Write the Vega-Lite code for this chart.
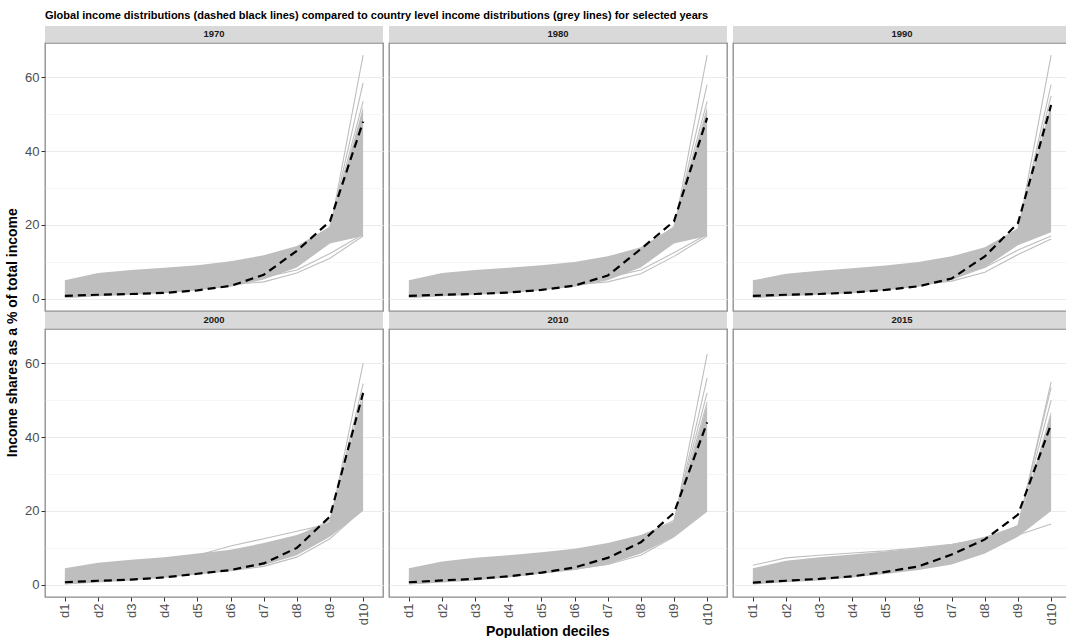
{
"$schema": "https://vega.github.io/schema/vega-lite/v6.json",
"background": "white",
"padding": {"left": 5, "right": 0, "top": 10, "bottom": 0},
"title": {"text": "Global income distributions (dashed black lines) compared to country level income distributions (grey lines) for selected years", "anchor": "start", "fontSize": 11, "fontWeight": "bold", "font": "Liberation Sans", "color": "#000000", "offset": 5, "frame": "group"},
"config": {
  "font": "Liberation Sans",
  "view": {"stroke": "#8a8a8a", "strokeWidth": 1.3},
  "axis": {"domain": false, "gridColor": "#EBEBEB", "labelColor": "#4D4D4D", "labelFont": "Liberation Sans", "labelFontSize": 13, "tickColor": "#333333", "tickSize": 4, "labelPadding": 2}
},
"datasets": {
  "years": [{"year": 1970}, {"year": 1980}, {"year": 1990}, {"year": 2000}, {"year": 2010}, {"year": 2015}],
  "band": [
    {"year":1970,"d":"d1","lo":0.2,"hi":5.0},{"year":1970,"d":"d2","lo":0.7,"hi":7.0},{"year":1970,"d":"d3","lo":1.1,"hi":7.8},{"year":1970,"d":"d4","lo":1.5,"hi":8.4},{"year":1970,"d":"d5","lo":2.3,"hi":9.1},{"year":1970,"d":"d6","lo":3.3,"hi":10.2},{"year":1970,"d":"d7","lo":5.2,"hi":11.8},{"year":1970,"d":"d8","lo":8.5,"hi":14.3},{"year":1970,"d":"d9","lo":15.0,"hi":19.5},{"year":1970,"d":"d10","lo":17.0,"hi":52.0},
    {"year":1980,"d":"d1","lo":0.2,"hi":5.0},{"year":1980,"d":"d2","lo":0.7,"hi":7.0},{"year":1980,"d":"d3","lo":1.1,"hi":7.8},{"year":1980,"d":"d4","lo":1.5,"hi":8.4},{"year":1980,"d":"d5","lo":2.3,"hi":9.1},{"year":1980,"d":"d6","lo":3.3,"hi":10.0},{"year":1980,"d":"d7","lo":5.0,"hi":11.5},{"year":1980,"d":"d8","lo":8.5,"hi":14.0},{"year":1980,"d":"d9","lo":15.0,"hi":19.5},{"year":1980,"d":"d10","lo":17.0,"hi":52.0},
    {"year":1990,"d":"d1","lo":0.2,"hi":5.0},{"year":1990,"d":"d2","lo":0.7,"hi":6.8},{"year":1990,"d":"d3","lo":1.1,"hi":7.6},{"year":1990,"d":"d4","lo":1.5,"hi":8.3},{"year":1990,"d":"d5","lo":2.3,"hi":9.0},{"year":1990,"d":"d6","lo":3.3,"hi":10.0},{"year":1990,"d":"d7","lo":5.0,"hi":11.5},{"year":1990,"d":"d8","lo":8.5,"hi":14.0},{"year":1990,"d":"d9","lo":14.5,"hi":19.0},{"year":1990,"d":"d10","lo":18.0,"hi":53.0},
    {"year":2000,"d":"d1","lo":0.1,"hi":4.5},{"year":2000,"d":"d2","lo":0.6,"hi":6.0},{"year":2000,"d":"d3","lo":1.2,"hi":6.8},{"year":2000,"d":"d4","lo":1.9,"hi":7.5},{"year":2000,"d":"d5","lo":2.8,"hi":8.5},{"year":2000,"d":"d6","lo":3.8,"hi":9.5},{"year":2000,"d":"d7","lo":5.3,"hi":11.3},{"year":2000,"d":"d8","lo":8.0,"hi":13.5},{"year":2000,"d":"d9","lo":13.0,"hi":17.0},{"year":2000,"d":"d10","lo":20.0,"hi":51.0},
    {"year":2010,"d":"d1","lo":0.1,"hi":4.5},{"year":2010,"d":"d2","lo":0.6,"hi":6.3},{"year":2010,"d":"d3","lo":1.2,"hi":7.3},{"year":2010,"d":"d4","lo":2.0,"hi":8.0},{"year":2010,"d":"d5","lo":3.0,"hi":8.8},{"year":2010,"d":"d6","lo":4.0,"hi":9.8},{"year":2010,"d":"d7","lo":5.5,"hi":11.3},{"year":2010,"d":"d8","lo":8.5,"hi":13.5},{"year":2010,"d":"d9","lo":13.0,"hi":17.0},{"year":2010,"d":"d10","lo":20.0,"hi":49.0},
    {"year":2015,"d":"d1","lo":0.1,"hi":4.5},{"year":2015,"d":"d2","lo":0.7,"hi":6.5},{"year":2015,"d":"d3","lo":1.2,"hi":7.5},{"year":2015,"d":"d4","lo":2.0,"hi":8.2},{"year":2015,"d":"d5","lo":2.9,"hi":9.0},{"year":2015,"d":"d6","lo":4.0,"hi":9.9},{"year":2015,"d":"d7","lo":5.5,"hi":11.0},{"year":2015,"d":"d8","lo":8.5,"hi":13.0},{"year":2015,"d":"d9","lo":13.0,"hi":16.0},{"year":2015,"d":"d10","lo":20.0,"hi":47.0}
  ],
  "global": [
    {"year":1970,"d":"d1","v":0.8},{"year":1970,"d":"d2","v":1.1},{"year":1970,"d":"d3","v":1.3},{"year":1970,"d":"d4","v":1.6},{"year":1970,"d":"d5","v":2.3},{"year":1970,"d":"d6","v":3.5},{"year":1970,"d":"d7","v":6.5},{"year":1970,"d":"d8","v":13.0},{"year":1970,"d":"d9","v":21.0},{"year":1970,"d":"d10","v":48.0},
    {"year":1980,"d":"d1","v":0.8},{"year":1980,"d":"d2","v":1.1},{"year":1980,"d":"d3","v":1.3},{"year":1980,"d":"d4","v":1.7},{"year":1980,"d":"d5","v":2.4},{"year":1980,"d":"d6","v":3.6},{"year":1980,"d":"d7","v":6.3},{"year":1980,"d":"d8","v":13.5},{"year":1980,"d":"d9","v":21.0},{"year":1980,"d":"d10","v":49.0},
    {"year":1990,"d":"d1","v":0.8},{"year":1990,"d":"d2","v":1.1},{"year":1990,"d":"d3","v":1.3},{"year":1990,"d":"d4","v":1.7},{"year":1990,"d":"d5","v":2.4},{"year":1990,"d":"d6","v":3.4},{"year":1990,"d":"d7","v":5.5},{"year":1990,"d":"d8","v":11.5},{"year":1990,"d":"d9","v":20.5},{"year":1990,"d":"d10","v":52.5},
    {"year":2000,"d":"d1","v":0.7},{"year":2000,"d":"d2","v":1.1},{"year":2000,"d":"d3","v":1.4},{"year":2000,"d":"d4","v":2.0},{"year":2000,"d":"d5","v":3.0},{"year":2000,"d":"d6","v":4.0},{"year":2000,"d":"d7","v":5.8},{"year":2000,"d":"d8","v":10.0},{"year":2000,"d":"d9","v":18.5},{"year":2000,"d":"d10","v":52.0},
    {"year":2010,"d":"d1","v":0.7},{"year":2010,"d":"d2","v":1.2},{"year":2010,"d":"d3","v":1.6},{"year":2010,"d":"d4","v":2.3},{"year":2010,"d":"d5","v":3.3},{"year":2010,"d":"d6","v":4.7},{"year":2010,"d":"d7","v":7.3},{"year":2010,"d":"d8","v":11.5},{"year":2010,"d":"d9","v":19.5},{"year":2010,"d":"d10","v":44.0},
    {"year":2015,"d":"d1","v":0.6},{"year":2015,"d":"d2","v":1.1},{"year":2015,"d":"d3","v":1.6},{"year":2015,"d":"d4","v":2.3},{"year":2015,"d":"d5","v":3.5},{"year":2015,"d":"d6","v":5.0},{"year":2015,"d":"d7","v":8.2},{"year":2015,"d":"d8","v":12.3},{"year":2015,"d":"d9","v":19.0},{"year":2015,"d":"d10","v":43.5}
  ],
  "countries": [
    {"year":1970,"id":"A","d":"d1","v":1.3},{"year":1970,"id":"A","d":"d2","v":2.8},{"year":1970,"id":"A","d":"d3","v":3.8},{"year":1970,"id":"A","d":"d4","v":4.8},{"year":1970,"id":"A","d":"d5","v":5.8},{"year":1970,"id":"A","d":"d6","v":7.2},{"year":1970,"id":"A","d":"d7","v":9.2},{"year":1970,"id":"A","d":"d8","v":12.5},{"year":1970,"id":"A","d":"d9","v":18.5},{"year":1970,"id":"A","d":"d10","v":66.0},
    {"year":1970,"id":"B","d":"d1","v":1.6},{"year":1970,"id":"B","d":"d2","v":3.0},{"year":1970,"id":"B","d":"d3","v":4.0},{"year":1970,"id":"B","d":"d4","v":5.0},{"year":1970,"id":"B","d":"d5","v":6.0},{"year":1970,"id":"B","d":"d6","v":7.4},{"year":1970,"id":"B","d":"d7","v":9.4},{"year":1970,"id":"B","d":"d8","v":12.8},{"year":1970,"id":"B","d":"d9","v":19.0},{"year":1970,"id":"B","d":"d10","v":58.5},
    {"year":1970,"id":"C","d":"d1","v":2.0},{"year":1970,"id":"C","d":"d2","v":3.6},{"year":1970,"id":"C","d":"d3","v":4.6},{"year":1970,"id":"C","d":"d4","v":5.6},{"year":1970,"id":"C","d":"d5","v":6.6},{"year":1970,"id":"C","d":"d6","v":8.0},{"year":1970,"id":"C","d":"d7","v":10.0},{"year":1970,"id":"C","d":"d8","v":13.5},{"year":1970,"id":"C","d":"d9","v":19.5},{"year":1970,"id":"C","d":"d10","v":53.5},
    {"year":1970,"id":"D","d":"d1","v":0.4},{"year":1970,"id":"D","d":"d2","v":1.0},{"year":1970,"id":"D","d":"d3","v":1.5},{"year":1970,"id":"D","d":"d4","v":2.1},{"year":1970,"id":"D","d":"d5","v":2.9},{"year":1970,"id":"D","d":"d6","v":3.8},{"year":1970,"id":"D","d":"d7","v":4.6},{"year":1970,"id":"D","d":"d8","v":7.0},{"year":1970,"id":"D","d":"d9","v":11.0},{"year":1970,"id":"D","d":"d10","v":17.0},
    {"year":1970,"id":"E","d":"d1","v":0.6},{"year":1970,"id":"E","d":"d2","v":1.4},{"year":1970,"id":"E","d":"d3","v":2.0},{"year":1970,"id":"E","d":"d4","v":2.7},{"year":1970,"id":"E","d":"d5","v":3.5},{"year":1970,"id":"E","d":"d6","v":4.5},{"year":1970,"id":"E","d":"d7","v":5.8},{"year":1970,"id":"E","d":"d8","v":7.8},{"year":1970,"id":"E","d":"d9","v":12.3},{"year":1970,"id":"E","d":"d10","v":17.5},
    {"year":1980,"id":"A","d":"d1","v":1.3},{"year":1980,"id":"A","d":"d2","v":2.8},{"year":1980,"id":"A","d":"d3","v":3.8},{"year":1980,"id":"A","d":"d4","v":4.8},{"year":1980,"id":"A","d":"d5","v":5.8},{"year":1980,"id":"A","d":"d6","v":7.2},{"year":1980,"id":"A","d":"d7","v":9.2},{"year":1980,"id":"A","d":"d8","v":12.5},{"year":1980,"id":"A","d":"d9","v":18.5},{"year":1980,"id":"A","d":"d10","v":66.0},
    {"year":1980,"id":"B","d":"d1","v":1.6},{"year":1980,"id":"B","d":"d2","v":3.0},{"year":1980,"id":"B","d":"d3","v":4.0},{"year":1980,"id":"B","d":"d4","v":5.0},{"year":1980,"id":"B","d":"d5","v":6.0},{"year":1980,"id":"B","d":"d6","v":7.4},{"year":1980,"id":"B","d":"d7","v":9.4},{"year":1980,"id":"B","d":"d8","v":12.8},{"year":1980,"id":"B","d":"d9","v":19.0},{"year":1980,"id":"B","d":"d10","v":58.0},
    {"year":1980,"id":"C","d":"d1","v":2.0},{"year":1980,"id":"C","d":"d2","v":3.6},{"year":1980,"id":"C","d":"d3","v":4.6},{"year":1980,"id":"C","d":"d4","v":5.6},{"year":1980,"id":"C","d":"d5","v":6.6},{"year":1980,"id":"C","d":"d6","v":8.0},{"year":1980,"id":"C","d":"d7","v":10.0},{"year":1980,"id":"C","d":"d8","v":13.5},{"year":1980,"id":"C","d":"d9","v":19.5},{"year":1980,"id":"C","d":"d10","v":53.5},
    {"year":1980,"id":"D","d":"d1","v":0.4},{"year":1980,"id":"D","d":"d2","v":1.0},{"year":1980,"id":"D","d":"d3","v":1.5},{"year":1980,"id":"D","d":"d4","v":2.1},{"year":1980,"id":"D","d":"d5","v":2.9},{"year":1980,"id":"D","d":"d6","v":3.8},{"year":1980,"id":"D","d":"d7","v":4.6},{"year":1980,"id":"D","d":"d8","v":6.8},{"year":1980,"id":"D","d":"d9","v":11.5},{"year":1980,"id":"D","d":"d10","v":17.0},
    {"year":1980,"id":"E","d":"d1","v":0.6},{"year":1980,"id":"E","d":"d2","v":1.4},{"year":1980,"id":"E","d":"d3","v":2.0},{"year":1980,"id":"E","d":"d4","v":2.7},{"year":1980,"id":"E","d":"d5","v":3.5},{"year":1980,"id":"E","d":"d6","v":4.5},{"year":1980,"id":"E","d":"d7","v":5.8},{"year":1980,"id":"E","d":"d8","v":7.8},{"year":1980,"id":"E","d":"d9","v":12.5},{"year":1980,"id":"E","d":"d10","v":17.5},
    {"year":1990,"id":"A","d":"d1","v":1.3},{"year":1990,"id":"A","d":"d2","v":2.8},{"year":1990,"id":"A","d":"d3","v":3.8},{"year":1990,"id":"A","d":"d4","v":4.8},{"year":1990,"id":"A","d":"d5","v":5.8},{"year":1990,"id":"A","d":"d6","v":7.2},{"year":1990,"id":"A","d":"d7","v":9.2},{"year":1990,"id":"A","d":"d8","v":12.5},{"year":1990,"id":"A","d":"d9","v":18.0},{"year":1990,"id":"A","d":"d10","v":66.0},
    {"year":1990,"id":"B","d":"d1","v":1.6},{"year":1990,"id":"B","d":"d2","v":3.0},{"year":1990,"id":"B","d":"d3","v":4.0},{"year":1990,"id":"B","d":"d4","v":5.0},{"year":1990,"id":"B","d":"d5","v":6.0},{"year":1990,"id":"B","d":"d6","v":7.4},{"year":1990,"id":"B","d":"d7","v":9.4},{"year":1990,"id":"B","d":"d8","v":12.8},{"year":1990,"id":"B","d":"d9","v":18.5},{"year":1990,"id":"B","d":"d10","v":58.0},
    {"year":1990,"id":"C","d":"d1","v":2.0},{"year":1990,"id":"C","d":"d2","v":3.6},{"year":1990,"id":"C","d":"d3","v":4.6},{"year":1990,"id":"C","d":"d4","v":5.6},{"year":1990,"id":"C","d":"d5","v":6.6},{"year":1990,"id":"C","d":"d6","v":8.0},{"year":1990,"id":"C","d":"d7","v":10.0},{"year":1990,"id":"C","d":"d8","v":13.5},{"year":1990,"id":"C","d":"d9","v":19.0},{"year":1990,"id":"C","d":"d10","v":55.0},
    {"year":1990,"id":"D","d":"d1","v":0.4},{"year":1990,"id":"D","d":"d2","v":1.0},{"year":1990,"id":"D","d":"d3","v":1.5},{"year":1990,"id":"D","d":"d4","v":2.1},{"year":1990,"id":"D","d":"d5","v":2.9},{"year":1990,"id":"D","d":"d6","v":3.8},{"year":1990,"id":"D","d":"d7","v":4.8},{"year":1990,"id":"D","d":"d8","v":7.2},{"year":1990,"id":"D","d":"d9","v":12.0},{"year":1990,"id":"D","d":"d10","v":16.2},
    {"year":1990,"id":"E","d":"d1","v":0.6},{"year":1990,"id":"E","d":"d2","v":1.4},{"year":1990,"id":"E","d":"d3","v":2.0},{"year":1990,"id":"E","d":"d4","v":2.7},{"year":1990,"id":"E","d":"d5","v":3.5},{"year":1990,"id":"E","d":"d6","v":4.5},{"year":1990,"id":"E","d":"d7","v":5.8},{"year":1990,"id":"E","d":"d8","v":8.5},{"year":1990,"id":"E","d":"d9","v":13.2},{"year":1990,"id":"E","d":"d10","v":17.0},
    {"year":2000,"id":"A","d":"d1","v":1.2},{"year":2000,"id":"A","d":"d2","v":2.6},{"year":2000,"id":"A","d":"d3","v":3.6},{"year":2000,"id":"A","d":"d4","v":4.6},{"year":2000,"id":"A","d":"d5","v":5.6},{"year":2000,"id":"A","d":"d6","v":7.0},{"year":2000,"id":"A","d":"d7","v":9.0},{"year":2000,"id":"A","d":"d8","v":12.0},{"year":2000,"id":"A","d":"d9","v":16.5},{"year":2000,"id":"A","d":"d10","v":60.0},
    {"year":2000,"id":"B","d":"d1","v":1.5},{"year":2000,"id":"B","d":"d2","v":2.9},{"year":2000,"id":"B","d":"d3","v":3.9},{"year":2000,"id":"B","d":"d4","v":4.9},{"year":2000,"id":"B","d":"d5","v":5.9},{"year":2000,"id":"B","d":"d6","v":7.3},{"year":2000,"id":"B","d":"d7","v":9.3},{"year":2000,"id":"B","d":"d8","v":12.5},{"year":2000,"id":"B","d":"d9","v":17.0},{"year":2000,"id":"B","d":"d10","v":54.5},
    {"year":2000,"id":"C","d":"d1","v":1.9},{"year":2000,"id":"C","d":"d2","v":3.4},{"year":2000,"id":"C","d":"d3","v":4.4},{"year":2000,"id":"C","d":"d4","v":5.4},{"year":2000,"id":"C","d":"d5","v":6.4},{"year":2000,"id":"C","d":"d6","v":7.8},{"year":2000,"id":"C","d":"d7","v":9.8},{"year":2000,"id":"C","d":"d8","v":13.0},{"year":2000,"id":"C","d":"d9","v":17.5},{"year":2000,"id":"C","d":"d10","v":52.0},
    {"year":2000,"id":"D","d":"d1","v":2.5},{"year":2000,"id":"D","d":"d2","v":4.5},{"year":2000,"id":"D","d":"d3","v":5.8},{"year":2000,"id":"D","d":"d4","v":6.8},{"year":2000,"id":"D","d":"d5","v":8.0},{"year":2000,"id":"D","d":"d6","v":10.5},{"year":2000,"id":"D","d":"d7","v":12.5},{"year":2000,"id":"D","d":"d8","v":14.5},{"year":2000,"id":"D","d":"d9","v":16.5},{"year":2000,"id":"D","d":"d10","v":22.0},
    {"year":2000,"id":"E","d":"d1","v":0.3},{"year":2000,"id":"E","d":"d2","v":0.9},{"year":2000,"id":"E","d":"d3","v":1.5},{"year":2000,"id":"E","d":"d4","v":2.2},{"year":2000,"id":"E","d":"d5","v":3.0},{"year":2000,"id":"E","d":"d6","v":3.8},{"year":2000,"id":"E","d":"d7","v":5.0},{"year":2000,"id":"E","d":"d8","v":7.5},{"year":2000,"id":"E","d":"d9","v":12.5},{"year":2000,"id":"E","d":"d10","v":20.5},
    {"year":2010,"id":"A","d":"d1","v":1.2},{"year":2010,"id":"A","d":"d2","v":2.6},{"year":2010,"id":"A","d":"d3","v":3.6},{"year":2010,"id":"A","d":"d4","v":4.6},{"year":2010,"id":"A","d":"d5","v":5.6},{"year":2010,"id":"A","d":"d6","v":7.0},{"year":2010,"id":"A","d":"d7","v":9.0},{"year":2010,"id":"A","d":"d8","v":12.0},{"year":2010,"id":"A","d":"d9","v":16.5},{"year":2010,"id":"A","d":"d10","v":62.5},
    {"year":2010,"id":"B","d":"d1","v":1.5},{"year":2010,"id":"B","d":"d2","v":2.9},{"year":2010,"id":"B","d":"d3","v":3.9},{"year":2010,"id":"B","d":"d4","v":4.9},{"year":2010,"id":"B","d":"d5","v":5.9},{"year":2010,"id":"B","d":"d6","v":7.3},{"year":2010,"id":"B","d":"d7","v":9.3},{"year":2010,"id":"B","d":"d8","v":12.5},{"year":2010,"id":"B","d":"d9","v":17.0},{"year":2010,"id":"B","d":"d10","v":56.0},
    {"year":2010,"id":"C","d":"d1","v":1.9},{"year":2010,"id":"C","d":"d2","v":3.4},{"year":2010,"id":"C","d":"d3","v":4.4},{"year":2010,"id":"C","d":"d4","v":5.4},{"year":2010,"id":"C","d":"d5","v":6.4},{"year":2010,"id":"C","d":"d6","v":7.8},{"year":2010,"id":"C","d":"d7","v":9.8},{"year":2010,"id":"C","d":"d8","v":13.0},{"year":2010,"id":"C","d":"d9","v":17.5},{"year":2010,"id":"C","d":"d10","v":52.0},
    {"year":2010,"id":"D","d":"d1","v":2.2},{"year":2010,"id":"D","d":"d2","v":3.8},{"year":2010,"id":"D","d":"d3","v":4.8},{"year":2010,"id":"D","d":"d4","v":5.8},{"year":2010,"id":"D","d":"d5","v":6.8},{"year":2010,"id":"D","d":"d6","v":8.2},{"year":2010,"id":"D","d":"d7","v":10.2},{"year":2010,"id":"D","d":"d8","v":13.2},{"year":2010,"id":"D","d":"d9","v":17.0},{"year":2010,"id":"D","d":"d10","v":49.5},
    {"year":2010,"id":"E","d":"d1","v":0.3},{"year":2010,"id":"E","d":"d2","v":0.9},{"year":2010,"id":"E","d":"d3","v":1.5},{"year":2010,"id":"E","d":"d4","v":2.3},{"year":2010,"id":"E","d":"d5","v":3.2},{"year":2010,"id":"E","d":"d6","v":4.2},{"year":2010,"id":"E","d":"d7","v":5.5},{"year":2010,"id":"E","d":"d8","v":8.0},{"year":2010,"id":"E","d":"d9","v":13.0},{"year":2010,"id":"E","d":"d10","v":20.0},
    {"year":2015,"id":"A","d":"d1","v":1.2},{"year":2015,"id":"A","d":"d2","v":2.6},{"year":2015,"id":"A","d":"d3","v":3.6},{"year":2015,"id":"A","d":"d4","v":4.6},{"year":2015,"id":"A","d":"d5","v":5.6},{"year":2015,"id":"A","d":"d6","v":7.0},{"year":2015,"id":"A","d":"d7","v":9.0},{"year":2015,"id":"A","d":"d8","v":12.0},{"year":2015,"id":"A","d":"d9","v":15.5},{"year":2015,"id":"A","d":"d10","v":55.0},
    {"year":2015,"id":"B","d":"d1","v":1.5},{"year":2015,"id":"B","d":"d2","v":2.9},{"year":2015,"id":"B","d":"d3","v":3.9},{"year":2015,"id":"B","d":"d4","v":4.9},{"year":2015,"id":"B","d":"d5","v":5.9},{"year":2015,"id":"B","d":"d6","v":7.3},{"year":2015,"id":"B","d":"d7","v":9.3},{"year":2015,"id":"B","d":"d8","v":12.3},{"year":2015,"id":"B","d":"d9","v":16.0},{"year":2015,"id":"B","d":"d10","v":53.5},
    {"year":2015,"id":"C","d":"d1","v":1.9},{"year":2015,"id":"C","d":"d2","v":3.4},{"year":2015,"id":"C","d":"d3","v":4.4},{"year":2015,"id":"C","d":"d4","v":5.4},{"year":2015,"id":"C","d":"d5","v":6.4},{"year":2015,"id":"C","d":"d6","v":7.8},{"year":2015,"id":"C","d":"d7","v":9.8},{"year":2015,"id":"C","d":"d8","v":12.5},{"year":2015,"id":"C","d":"d9","v":16.0},{"year":2015,"id":"C","d":"d10","v":50.0},
    {"year":2015,"id":"D","d":"d1","v":0.4},{"year":2015,"id":"D","d":"d2","v":1.2},{"year":2015,"id":"D","d":"d3","v":1.9},{"year":2015,"id":"D","d":"d4","v":2.7},{"year":2015,"id":"D","d":"d5","v":3.6},{"year":2015,"id":"D","d":"d6","v":4.6},{"year":2015,"id":"D","d":"d7","v":6.0},{"year":2015,"id":"D","d":"d8","v":9.0},{"year":2015,"id":"D","d":"d9","v":13.5},{"year":2015,"id":"D","d":"d10","v":16.5},
    {"year":2015,"id":"E","d":"d1","v":5.3},{"year":2015,"id":"E","d":"d2","v":7.3},{"year":2015,"id":"E","d":"d3","v":8.0},{"year":2015,"id":"E","d":"d4","v":8.6},{"year":2015,"id":"E","d":"d5","v":9.2},{"year":2015,"id":"E","d":"d6","v":10.0},{"year":2015,"id":"E","d":"d7","v":11.0},{"year":2015,"id":"E","d":"d8","v":12.5},{"year":2015,"id":"E","d":"d9","v":14.0},{"year":2015,"id":"E","d":"d10","v":22.0}
  ]
},
"vconcat": [{
  "title": {"text": "Income shares as a % of total income", "orient": "left", "anchor": "middle", "fontSize": 14, "fontWeight": "bold", "color": "#000000", "offset": 4},
  "vconcat": [{
    "title": {"text": "Population deciles", "orient": "bottom", "anchor": "middle", "fontSize": 14, "fontWeight": "bold", "color": "#000000", "offset": 0},
    "spacing": 0,
    "vconcat": [
      {"spacing": 4, "hconcat": [
        {"spacing": 0, "vconcat": [
          {"width": 338, "height": 16, "view": {"fill": "#D9D9D9"}, "data": {"name": "years"}, "transform": [{"filter": "datum.year == 1970"}], "mark": {"type": "text", "fontSize": 9.5, "fontWeight": "bold", "color": "#1A1A1A"}, "encoding": {"text": {"field": "year"}}},
          {"width": 338, "height": 268, "layer": [
            {"data": {"name": "band"}, "transform": [{"filter": "datum.year == 1970"}], "mark": {"type": "area", "color": "#BEBEBE", "opacity": 1},
             "encoding": {"x": {"field": "d", "type": "ordinal", "sort": ["d1","d2","d3","d4","d5","d6","d7","d8","d9","d10"], "scale": {"type": "point", "padding": 0.6, "domain": ["d1","d2","d3","d4","d5","d6","d7","d8","d9","d10"]}, "axis": {"title": null, "labels": false, "ticks": false}},
                          "y": {"field": "hi", "type": "quantitative", "scale": {"domain": [-3.3, 69.3], "nice": false, "zero": false}, "axis": {"title": null, "values": [0,10,20,30,40,50,60], "labelExpr": "datum.value % 20 === 0 ? datum.label : ''", "tickOpacity": {"condition": {"test": "datum.value % 20 === 0", "value": 1}, "value": 0}, "gridWidth": {"condition": {"test": "datum.value % 20 === 0", "value": 1.1}, "value": 0.5}}},
                          "y2": {"field": "lo"}}},
            {"data": {"name": "countries"}, "transform": [{"filter": "datum.year == 1970"}], "mark": {"type": "line", "color": "#BEBEBE", "strokeWidth": 1.1},
             "encoding": {"x": {"field": "d", "type": "ordinal", "sort": ["d1","d2","d3","d4","d5","d6","d7","d8","d9","d10"], "axis": {"title": null}}, "y": {"field": "v", "type": "quantitative", "axis": {"title": null}}, "detail": {"field": "id"}}},
            {"data": {"name": "global"}, "transform": [{"filter": "datum.year == 1970"}], "mark": {"type": "line", "color": "#000000", "strokeWidth": 2.2, "strokeDash": [8, 5]},
             "encoding": {"x": {"field": "d", "type": "ordinal", "sort": ["d1","d2","d3","d4","d5","d6","d7","d8","d9","d10"], "axis": {"title": null}}, "y": {"field": "v", "type": "quantitative", "axis": {"title": null}}}}
          ]}
        ]},
        {"spacing": 0, "vconcat": [
          {"width": 338, "height": 16, "view": {"fill": "#D9D9D9"}, "data": {"name": "years"}, "transform": [{"filter": "datum.year == 1980"}], "mark": {"type": "text", "fontSize": 9.5, "fontWeight": "bold", "color": "#1A1A1A"}, "encoding": {"text": {"field": "year"}}},
          {"width": 338, "height": 268, "layer": [
            {"data": {"name": "band"}, "transform": [{"filter": "datum.year == 1980"}], "mark": {"type": "area", "color": "#BEBEBE", "opacity": 1},
             "encoding": {"x": {"field": "d", "type": "ordinal", "sort": ["d1","d2","d3","d4","d5","d6","d7","d8","d9","d10"], "scale": {"type": "point", "padding": 0.6, "domain": ["d1","d2","d3","d4","d5","d6","d7","d8","d9","d10"]}, "axis": {"title": null, "labels": false, "ticks": false}},
                          "y": {"field": "hi", "type": "quantitative", "scale": {"domain": [-3.3, 69.3], "nice": false, "zero": false}, "axis": {"title": null, "values": [0,10,20,30,40,50,60], "labels": false, "ticks": false, "gridWidth": {"condition": {"test": "datum.value % 20 === 0", "value": 1.1}, "value": 0.5}}},
                          "y2": {"field": "lo"}}},
            {"data": {"name": "countries"}, "transform": [{"filter": "datum.year == 1980"}], "mark": {"type": "line", "color": "#BEBEBE", "strokeWidth": 1.1},
             "encoding": {"x": {"field": "d", "type": "ordinal", "sort": ["d1","d2","d3","d4","d5","d6","d7","d8","d9","d10"], "axis": {"title": null}}, "y": {"field": "v", "type": "quantitative", "axis": {"title": null}}, "detail": {"field": "id"}}},
            {"data": {"name": "global"}, "transform": [{"filter": "datum.year == 1980"}], "mark": {"type": "line", "color": "#000000", "strokeWidth": 2.2, "strokeDash": [8, 5]},
             "encoding": {"x": {"field": "d", "type": "ordinal", "sort": ["d1","d2","d3","d4","d5","d6","d7","d8","d9","d10"], "axis": {"title": null}}, "y": {"field": "v", "type": "quantitative", "axis": {"title": null}}}}
          ]}
        ]},
        {"spacing": 0, "vconcat": [
          {"width": 338, "height": 16, "view": {"fill": "#D9D9D9"}, "data": {"name": "years"}, "transform": [{"filter": "datum.year == 1990"}], "mark": {"type": "text", "fontSize": 9.5, "fontWeight": "bold", "color": "#1A1A1A"}, "encoding": {"text": {"field": "year"}}},
          {"width": 338, "height": 268, "layer": [
            {"data": {"name": "band"}, "transform": [{"filter": "datum.year == 1990"}], "mark": {"type": "area", "color": "#BEBEBE", "opacity": 1},
             "encoding": {"x": {"field": "d", "type": "ordinal", "sort": ["d1","d2","d3","d4","d5","d6","d7","d8","d9","d10"], "scale": {"type": "point", "padding": 0.6, "domain": ["d1","d2","d3","d4","d5","d6","d7","d8","d9","d10"]}, "axis": {"title": null, "labels": false, "ticks": false}},
                          "y": {"field": "hi", "type": "quantitative", "scale": {"domain": [-3.3, 69.3], "nice": false, "zero": false}, "axis": {"title": null, "values": [0,10,20,30,40,50,60], "labels": false, "ticks": false, "gridWidth": {"condition": {"test": "datum.value % 20 === 0", "value": 1.1}, "value": 0.5}}},
                          "y2": {"field": "lo"}}},
            {"data": {"name": "countries"}, "transform": [{"filter": "datum.year == 1990"}], "mark": {"type": "line", "color": "#BEBEBE", "strokeWidth": 1.1},
             "encoding": {"x": {"field": "d", "type": "ordinal", "sort": ["d1","d2","d3","d4","d5","d6","d7","d8","d9","d10"], "axis": {"title": null}}, "y": {"field": "v", "type": "quantitative", "axis": {"title": null}}, "detail": {"field": "id"}}},
            {"data": {"name": "global"}, "transform": [{"filter": "datum.year == 1990"}], "mark": {"type": "line", "color": "#000000", "strokeWidth": 2.2, "strokeDash": [8, 5]},
             "encoding": {"x": {"field": "d", "type": "ordinal", "sort": ["d1","d2","d3","d4","d5","d6","d7","d8","d9","d10"], "axis": {"title": null}}, "y": {"field": "v", "type": "quantitative", "axis": {"title": null}}}}
          ]}
        ]}
      ]},
      {"spacing": 4, "hconcat": [
        {"spacing": 0, "vconcat": [
          {"width": 338, "height": 16, "view": {"fill": "#D9D9D9"}, "data": {"name": "years"}, "transform": [{"filter": "datum.year == 2000"}], "mark": {"type": "text", "fontSize": 9.5, "fontWeight": "bold", "color": "#1A1A1A"}, "encoding": {"text": {"field": "year"}}},
          {"width": 338, "height": 268, "layer": [
            {"data": {"name": "band"}, "transform": [{"filter": "datum.year == 2000"}], "mark": {"type": "area", "color": "#BEBEBE", "opacity": 1},
             "encoding": {"x": {"field": "d", "type": "ordinal", "sort": ["d1","d2","d3","d4","d5","d6","d7","d8","d9","d10"], "scale": {"type": "point", "padding": 0.6, "domain": ["d1","d2","d3","d4","d5","d6","d7","d8","d9","d10"]}, "axis": {"title": null, "labelAngle": -90}},
                          "y": {"field": "hi", "type": "quantitative", "scale": {"domain": [-3.3, 69.3], "nice": false, "zero": false}, "axis": {"title": null, "values": [0,10,20,30,40,50,60], "labelExpr": "datum.value % 20 === 0 ? datum.label : ''", "tickOpacity": {"condition": {"test": "datum.value % 20 === 0", "value": 1}, "value": 0}, "gridWidth": {"condition": {"test": "datum.value % 20 === 0", "value": 1.1}, "value": 0.5}}},
                          "y2": {"field": "lo"}}},
            {"data": {"name": "countries"}, "transform": [{"filter": "datum.year == 2000"}], "mark": {"type": "line", "color": "#BEBEBE", "strokeWidth": 1.1},
             "encoding": {"x": {"field": "d", "type": "ordinal", "sort": ["d1","d2","d3","d4","d5","d6","d7","d8","d9","d10"], "axis": {"title": null}}, "y": {"field": "v", "type": "quantitative", "axis": {"title": null}}, "detail": {"field": "id"}}},
            {"data": {"name": "global"}, "transform": [{"filter": "datum.year == 2000"}], "mark": {"type": "line", "color": "#000000", "strokeWidth": 2.2, "strokeDash": [8, 5]},
             "encoding": {"x": {"field": "d", "type": "ordinal", "sort": ["d1","d2","d3","d4","d5","d6","d7","d8","d9","d10"], "axis": {"title": null}}, "y": {"field": "v", "type": "quantitative", "axis": {"title": null}}}}
          ]}
        ]},
        {"spacing": 0, "vconcat": [
          {"width": 338, "height": 16, "view": {"fill": "#D9D9D9"}, "data": {"name": "years"}, "transform": [{"filter": "datum.year == 2010"}], "mark": {"type": "text", "fontSize": 9.5, "fontWeight": "bold", "color": "#1A1A1A"}, "encoding": {"text": {"field": "year"}}},
          {"width": 338, "height": 268, "layer": [
            {"data": {"name": "band"}, "transform": [{"filter": "datum.year == 2010"}], "mark": {"type": "area", "color": "#BEBEBE", "opacity": 1},
             "encoding": {"x": {"field": "d", "type": "ordinal", "sort": ["d1","d2","d3","d4","d5","d6","d7","d8","d9","d10"], "scale": {"type": "point", "padding": 0.6, "domain": ["d1","d2","d3","d4","d5","d6","d7","d8","d9","d10"]}, "axis": {"title": null, "labelAngle": -90}},
                          "y": {"field": "hi", "type": "quantitative", "scale": {"domain": [-3.3, 69.3], "nice": false, "zero": false}, "axis": {"title": null, "values": [0,10,20,30,40,50,60], "labels": false, "ticks": false, "gridWidth": {"condition": {"test": "datum.value % 20 === 0", "value": 1.1}, "value": 0.5}}},
                          "y2": {"field": "lo"}}},
            {"data": {"name": "countries"}, "transform": [{"filter": "datum.year == 2010"}], "mark": {"type": "line", "color": "#BEBEBE", "strokeWidth": 1.1},
             "encoding": {"x": {"field": "d", "type": "ordinal", "sort": ["d1","d2","d3","d4","d5","d6","d7","d8","d9","d10"], "axis": {"title": null}}, "y": {"field": "v", "type": "quantitative", "axis": {"title": null}}, "detail": {"field": "id"}}},
            {"data": {"name": "global"}, "transform": [{"filter": "datum.year == 2010"}], "mark": {"type": "line", "color": "#000000", "strokeWidth": 2.2, "strokeDash": [8, 5]},
             "encoding": {"x": {"field": "d", "type": "ordinal", "sort": ["d1","d2","d3","d4","d5","d6","d7","d8","d9","d10"], "axis": {"title": null}}, "y": {"field": "v", "type": "quantitative", "axis": {"title": null}}}}
          ]}
        ]},
        {"spacing": 0, "vconcat": [
          {"width": 338, "height": 16, "view": {"fill": "#D9D9D9"}, "data": {"name": "years"}, "transform": [{"filter": "datum.year == 2015"}], "mark": {"type": "text", "fontSize": 9.5, "fontWeight": "bold", "color": "#1A1A1A"}, "encoding": {"text": {"field": "year"}}},
          {"width": 338, "height": 268, "layer": [
            {"data": {"name": "band"}, "transform": [{"filter": "datum.year == 2015"}], "mark": {"type": "area", "color": "#BEBEBE", "opacity": 1},
             "encoding": {"x": {"field": "d", "type": "ordinal", "sort": ["d1","d2","d3","d4","d5","d6","d7","d8","d9","d10"], "scale": {"type": "point", "padding": 0.6, "domain": ["d1","d2","d3","d4","d5","d6","d7","d8","d9","d10"]}, "axis": {"title": null, "labelAngle": -90}},
                          "y": {"field": "hi", "type": "quantitative", "scale": {"domain": [-3.3, 69.3], "nice": false, "zero": false}, "axis": {"title": null, "values": [0,10,20,30,40,50,60], "labels": false, "ticks": false, "gridWidth": {"condition": {"test": "datum.value % 20 === 0", "value": 1.1}, "value": 0.5}}},
                          "y2": {"field": "lo"}}},
            {"data": {"name": "countries"}, "transform": [{"filter": "datum.year == 2015"}], "mark": {"type": "line", "color": "#BEBEBE", "strokeWidth": 1.1},
             "encoding": {"x": {"field": "d", "type": "ordinal", "sort": ["d1","d2","d3","d4","d5","d6","d7","d8","d9","d10"], "axis": {"title": null}}, "y": {"field": "v", "type": "quantitative", "axis": {"title": null}}, "detail": {"field": "id"}}},
            {"data": {"name": "global"}, "transform": [{"filter": "datum.year == 2015"}], "mark": {"type": "line", "color": "#000000", "strokeWidth": 2.2, "strokeDash": [8, 5]},
             "encoding": {"x": {"field": "d", "type": "ordinal", "sort": ["d1","d2","d3","d4","d5","d6","d7","d8","d9","d10"], "axis": {"title": null}}, "y": {"field": "v", "type": "quantitative", "axis": {"title": null}}}}
          ]}
        ]}
      ]}
    ]
  }]
}]
}
